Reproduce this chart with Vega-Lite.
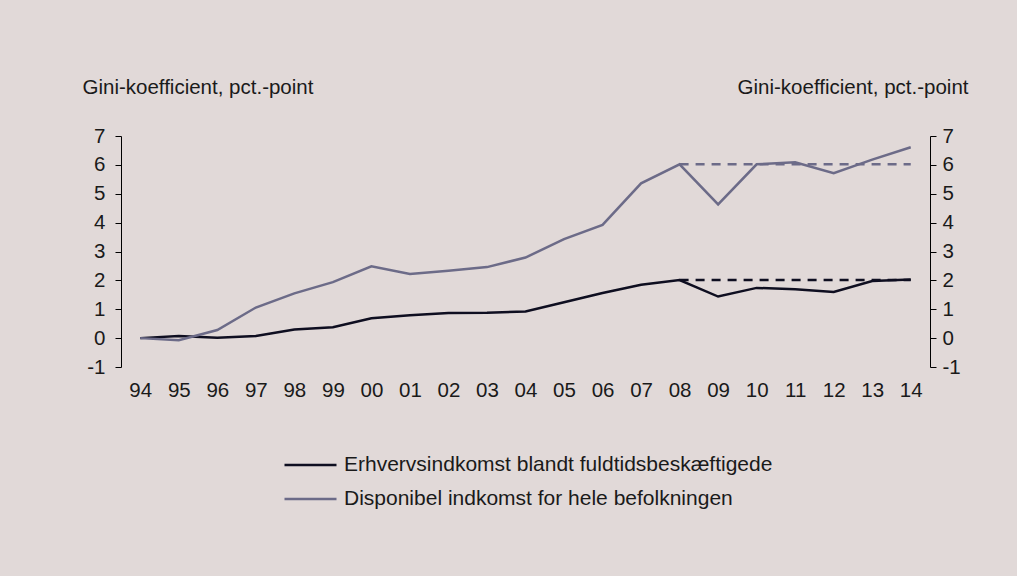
{
  "$schema": "https://vega.github.io/schema/vega-lite/v6.json",
  "width": 809,
  "height": 231,
  "autosize": {"type": "none"},
  "padding": {"left": 121, "top": 136, "right": 87, "bottom": 209},
  "background": "#e1d9d8",
  "config": {
    "view": {"stroke": null},
    "font": "Liberation Sans",
    "axis": {"labelFont": "Liberation Sans", "titleFont": "Liberation Sans", "labelColor": "#1a1a1a", "titleColor": "#1a1a1a", "grid": false},
    "legend": {"labelFont": "Liberation Sans"}
  },
  "datasets": {
    "lines": [
      {"year": "94", "series": "Erhvervsindkomst blandt fuldtidsbeskæftigede", "value": 0},
      {"year": "95", "series": "Erhvervsindkomst blandt fuldtidsbeskæftigede", "value": 0.07},
      {"year": "96", "series": "Erhvervsindkomst blandt fuldtidsbeskæftigede", "value": 0.01},
      {"year": "97", "series": "Erhvervsindkomst blandt fuldtidsbeskæftigede", "value": 0.07},
      {"year": "98", "series": "Erhvervsindkomst blandt fuldtidsbeskæftigede", "value": 0.3},
      {"year": "99", "series": "Erhvervsindkomst blandt fuldtidsbeskæftigede", "value": 0.38},
      {"year": "00", "series": "Erhvervsindkomst blandt fuldtidsbeskæftigede", "value": 0.69},
      {"year": "01", "series": "Erhvervsindkomst blandt fuldtidsbeskæftigede", "value": 0.79},
      {"year": "02", "series": "Erhvervsindkomst blandt fuldtidsbeskæftigede", "value": 0.87},
      {"year": "03", "series": "Erhvervsindkomst blandt fuldtidsbeskæftigede", "value": 0.88},
      {"year": "04", "series": "Erhvervsindkomst blandt fuldtidsbeskæftigede", "value": 0.92},
      {"year": "05", "series": "Erhvervsindkomst blandt fuldtidsbeskæftigede", "value": 1.24},
      {"year": "06", "series": "Erhvervsindkomst blandt fuldtidsbeskæftigede", "value": 1.56},
      {"year": "07", "series": "Erhvervsindkomst blandt fuldtidsbeskæftigede", "value": 1.85},
      {"year": "08", "series": "Erhvervsindkomst blandt fuldtidsbeskæftigede", "value": 2.01},
      {"year": "09", "series": "Erhvervsindkomst blandt fuldtidsbeskæftigede", "value": 1.44},
      {"year": "10", "series": "Erhvervsindkomst blandt fuldtidsbeskæftigede", "value": 1.74},
      {"year": "11", "series": "Erhvervsindkomst blandt fuldtidsbeskæftigede", "value": 1.69},
      {"year": "12", "series": "Erhvervsindkomst blandt fuldtidsbeskæftigede", "value": 1.6},
      {"year": "13", "series": "Erhvervsindkomst blandt fuldtidsbeskæftigede", "value": 1.98},
      {"year": "14", "series": "Erhvervsindkomst blandt fuldtidsbeskæftigede", "value": 2.03},
      {"year": "94", "series": "Disponibel indkomst for hele befolkningen", "value": 0},
      {"year": "95", "series": "Disponibel indkomst for hele befolkningen", "value": -0.07},
      {"year": "96", "series": "Disponibel indkomst for hele befolkningen", "value": 0.28},
      {"year": "97", "series": "Disponibel indkomst for hele befolkningen", "value": 1.06},
      {"year": "98", "series": "Disponibel indkomst for hele befolkningen", "value": 1.55},
      {"year": "99", "series": "Disponibel indkomst for hele befolkningen", "value": 1.94},
      {"year": "00", "series": "Disponibel indkomst for hele befolkningen", "value": 2.49},
      {"year": "01", "series": "Disponibel indkomst for hele befolkningen", "value": 2.22},
      {"year": "02", "series": "Disponibel indkomst for hele befolkningen", "value": 2.33},
      {"year": "03", "series": "Disponibel indkomst for hele befolkningen", "value": 2.46},
      {"year": "04", "series": "Disponibel indkomst for hele befolkningen", "value": 2.79},
      {"year": "05", "series": "Disponibel indkomst for hele befolkningen", "value": 3.43},
      {"year": "06", "series": "Disponibel indkomst for hele befolkningen", "value": 3.92},
      {"year": "07", "series": "Disponibel indkomst for hele befolkningen", "value": 5.36},
      {"year": "08", "series": "Disponibel indkomst for hele befolkningen", "value": 6.02},
      {"year": "09", "series": "Disponibel indkomst for hele befolkningen", "value": 4.63},
      {"year": "10", "series": "Disponibel indkomst for hele befolkningen", "value": 6.02},
      {"year": "11", "series": "Disponibel indkomst for hele befolkningen", "value": 6.09},
      {"year": "12", "series": "Disponibel indkomst for hele befolkningen", "value": 5.71},
      {"year": "13", "series": "Disponibel indkomst for hele befolkningen", "value": 6.18},
      {"year": "14", "series": "Disponibel indkomst for hele befolkningen", "value": 6.61}
    ],
    "dashes": [
      {"year": "08", "series": "Erhvervsindkomst blandt fuldtidsbeskæftigede", "value": 2.01},
      {"year": "14", "series": "Erhvervsindkomst blandt fuldtidsbeskæftigede", "value": 2.01},
      {"year": "08", "series": "Disponibel indkomst for hele befolkningen", "value": 6.02},
      {"year": "14", "series": "Disponibel indkomst for hele befolkningen", "value": 6.02}
    ]
  },
  "encoding": {
    "x": {
      "field": "year", "type": "ordinal",
      "sort": ["94","95","96","97","98","99","00","01","02","03","04","05","06","07","08","09","10","11","12","13","14"],
      "scale": {"type": "point", "padding": 0.5,
        "domain": ["94","95","96","97","98","99","00","01","02","03","04","05","06","07","08","09","10","11","12","13","14"]},
      "axis": {"title": null, "domain": false, "ticks": false, "labelAngle": 0, "labelFontSize": 20.5, "labelPadding": 13}
    }
  },
  "layer": [
    {
      "data": {"name": "lines"},
      "mark": {"type": "line", "strokeWidth": 2.5},
      "encoding": {
        "y": {
          "field": "value", "type": "quantitative",
          "scale": {"domain": [-1, 7], "nice": false, "zero": false},
          "axis": {
            "orient": "left", "values": [-1,0,1,2,3,4,5,6,7], "labelExpr": "'' + datum.value", "labelFontSize": 20.5, "labelPadding": 10,
            "tickSize": 6, "tickColor": "#000", "domainColor": "#000", "tickWidth": 1, "domainWidth": 1,
            "title": "Gini-koefficient, pct.-point", "titleAngle": 0, "titleAlign": "left",
            "titleBaseline": "alphabetic", "titleX": -39, "titleY": -43, "titleFontSize": 20.5, "titleFontWeight": "normal"
          }
        },
        "color": {
          "field": "series", "type": "nominal",
          "scale": {"domain": ["Erhvervsindkomst blandt fuldtidsbeskæftigede", "Disponibel indkomst for hele befolkningen"], "range": ["#0e0e20", "#6c6b88"]},
          "legend": {
            "title": null, "orient": "none", "legendX": 162, "legendY": 319, "direction": "vertical",
            "symbolType": "stroke", "symbolSize": 2704, "symbolStrokeWidth": 2.5, "clipHeight": 20,
            "labelFontSize": 21, "labelColor": "#1a1a1a", "labelOffset": 6, "rowPadding": 13, "labelLimit": 600
          }
        }
      }
    },
    {
      "data": {"name": "dashes"},
      "mark": {"type": "line", "strokeWidth": 2.5, "strokeDash": [9, 7]},
      "encoding": {
        "y": {
          "field": "value", "type": "quantitative",
          "scale": {"domain": [-1, 7], "nice": false, "zero": false},
          "axis": {
            "orient": "right", "values": [-1,0,1,2,3,4,5,6,7], "labelExpr": "'' + datum.value", "labelFontSize": 20.5, "labelPadding": 6,
            "tickSize": 6, "tickColor": "#000", "domainColor": "#000", "tickWidth": 1, "domainWidth": 1,
            "title": "Gini-koefficient, pct.-point", "titleAngle": 0, "titleAlign": "right",
            "titleBaseline": "alphabetic", "titleX": 38, "titleY": -43, "titleFontSize": 20.5, "titleFontWeight": "normal"
          }
        },
        "color": {"field": "series", "type": "nominal", "legend": null}
      }
    },
    {
      "data": {"values": [{"z": 0}]},
      "mark": {"type": "rule", "color": "#000", "strokeWidth": 1},
      "encoding": {
        "y": {"field": "z", "type": "quantitative", "scale": {"domain": [-1, 7], "nice": false, "zero": false}, "axis": null}
      }
    }
  ],
  "resolve": {"scale": {"y": "shared"}, "axis": {"y": "independent"}}
}
